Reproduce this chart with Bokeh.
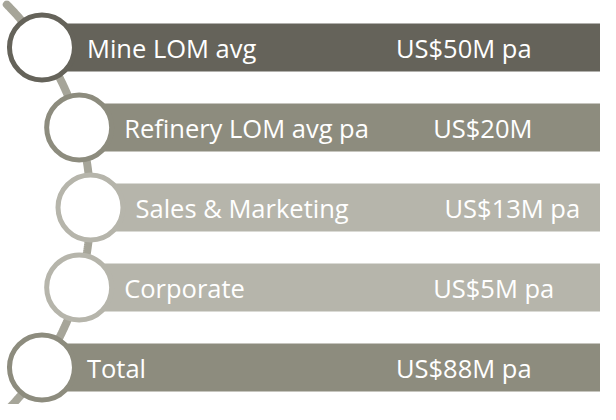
import numpy as np
from bokeh.plotting import figure
from bokeh.models import Range1d, ColumnDataSource
from bokeh.core.properties import value
from bokeh.embed import file_html
from bokeh.resources import INLINE

# ---- data ----
categories = ["Mine LOM avg", "Refinery LOM avg pa", "Sales & Marketing", "Corporate", "Total"]
amounts_musd = [50, 20, 13, 5, 88]
value_labels = ["US$50M pa", "US$20M", "US$13M pa", "US$5M pa", "US$88M pa"]

# ---- style ----
palette = ["#65635a", "#8d8c7e", "#b6b5ab", "#b6b5ab", "#8d8c7e"]
connector_color = "#a6a599"
FONT = "Open Sans"

# ---- layout (pixel-like coordinates of the 616x420 page) ----
n = len(categories)
row_top, row_step = 55, 80
arc_cx, arc_r = -190.0, 288.0
arc_cy = row_top + row_step * (n - 1) / 2
ys = [row_top + row_step * i for i in range(n)]
xs = [arc_cx + np.sqrt(arc_r ** 2 - (y - arc_cy) ** 2) for y in ys]

p = figure(width=600, height=404, output_backend="svg", toolbar_location=None,
           x_range=Range1d(8, 608), y_range=Range1d(412, 8),
           min_border=0, background_fill_color="white", border_fill_color="white")
p.axis.visible = False
p.grid.visible = False
p.outline_line_color = None

# curved connector
ty = np.linspace(12, 426, 200)
tx = arc_cx + np.sqrt(arc_r ** 2 - (ty - arc_cy) ** 2)
p.line(tx, ty, line_color=connector_color, line_width=8, line_cap="round")

src = ColumnDataSource(dict(
    x=xs, y=ys, cat=categories, val=value_labels, amt=amounts_musd, color=palette,
    lx=[x + 45 for x in xs], vx=[x + 354 for x in xs],
    top=[y - 24 for y in ys], bottom=[y + 24 for y in ys],
))

p.quad(left="x", right=640, top="top", bottom="bottom", source=src,
       fill_color="color", line_color=None)
p.circle(x="x", y="y", radius=32.5, source=src, fill_color="white",
         line_color="color", line_width=5)

p.text(x="lx", y="y", text="cat", source=src, text_color="white",
       text_font=value(FONT), text_font_size="25.5px", text_baseline="middle")
p.text(x="vx", y="y", text="val", source=src, text_color="white",
       text_font=value(FONT), text_font_size="25.5px", text_baseline="middle")

open("out.html", "w").write(file_html(p, INLINE))
